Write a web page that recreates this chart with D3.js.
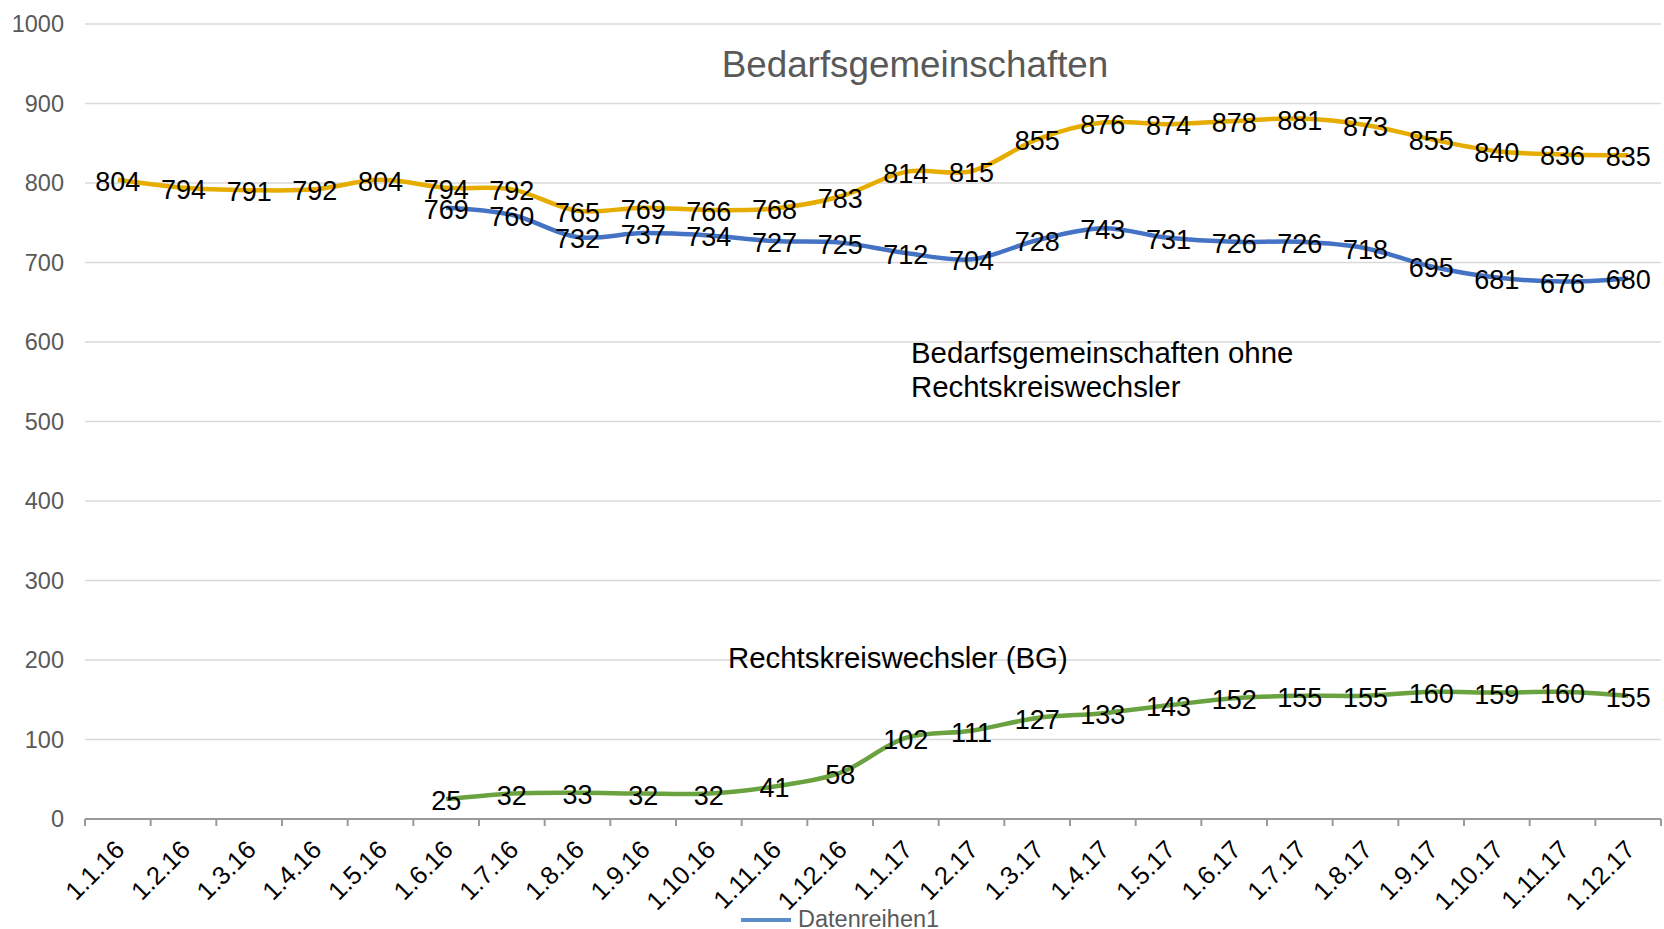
<!DOCTYPE html>
<html>
<head>
<meta charset="utf-8">
<script src="https://cdn.jsdelivr.net/npm/d3@7"></script>
<style>
  body { margin: 0; background: #fff; }
  svg text { font-family: "Liberation Sans", Arial, sans-serif; }
</style>
</head>
<body>
<div id="chart"></div>
<script>
var months = ["1.1.16", "1.2.16", "1.3.16", "1.4.16", "1.5.16", "1.6.16", "1.7.16", "1.8.16",
    "1.9.16", "1.10.16", "1.11.16", "1.12.16", "1.1.17", "1.2.17", "1.3.17", "1.4.17",
    "1.5.17", "1.6.17", "1.7.17", "1.8.17", "1.9.17", "1.10.17", "1.11.17", "1.12.17"];

// Bedarfsgemeinschaften gesamt
var bgGesamt = [804, 794, 791, 792, 804, 794, 792, 765, 769, 766, 768, 783,
    814, 815, 855, 876, 874, 878, 881, 873, 855, 840, 836, 835];

// ohne Rechtskreiswechsler (erst ab 1.6.16)
var bgOhneRkw = [null, null, null, null, null, 769, 760, 732, 737, 734, 727, 725,
    712, 704, 728, 743, 731, 726, 726, 718, 695, 681, 676, 680];

// Rechtskreiswechsler (BG)
var rkw = [null, null, null, null, null, 25, 32, 33, 32, 32, 41, 58,
    102, 111, 127, 133, 143, 152, 155, 155, 160, 159, 160, 155];

var yTicks = [0, 100, 200, 300, 400, 500, 600, 700, 800, 900, 1000];

var seriesColors = ["#e6ac00", "#4472c4", "#6aa23f"];

var width = 1664, height = 929;
var plotLeft = 85, plotRight = 1661, plotTop = 24, plotBottom = 819;

var svg = d3.select("#chart").append("svg")
    .attr("width", width)
    .attr("height", height);

var x = d3.scaleBand().domain(months).range([plotLeft, plotRight]);
var y = d3.scaleLinear().domain([0, 1000]).range([plotBottom, plotTop]);

// gridlines
svg.append("g")
    .selectAll("line")
    .data(yTicks.filter(function (d) { return d > 0; }))
    .enter().append("line")
    .attr("x1", plotLeft).attr("x2", plotRight)
    .attr("y1", function (d) { return y(d); })
    .attr("y2", function (d) { return y(d); })
    .attr("stroke", "#d9d9d9")
    .attr("stroke-width", 1.5);

// y axis labels
var yAxis = d3.axisLeft(y).tickValues(yTicks).tickFormat(d3.format("d"))
    .tickSize(0).tickPadding(21);
svg.append("g")
    .attr("transform", "translate(" + plotLeft + ",0)")
    .call(yAxis)
    .call(function (g) {
        g.select(".domain").remove();
        g.selectAll("text").attr("fill", "#595959").style("font-size", "23.5px");
    });

// x axis with tick marks between categories
var xAxisG = svg.append("g").attr("transform", "translate(0," + plotBottom + ")");
xAxisG.append("line")
    .attr("x1", plotLeft).attr("x2", plotRight)
    .attr("stroke", "#9a9a9a").attr("stroke-width", 2);
var bounds = months.map(function (m) { return x(m); }).concat([plotRight]);
xAxisG.selectAll(".tk").data(bounds).enter().append("line")
    .attr("class", "tk")
    .attr("x1", function (d) { return d; }).attr("x2", function (d) { return d; })
    .attr("y1", 0).attr("y2", 7)
    .attr("stroke", "#9a9a9a").attr("stroke-width", 2);
xAxisG.selectAll(".lbl").data(months).enter().append("text")
    .attr("class", "lbl")
    .attr("text-anchor", "end")
    .attr("transform", function (d) {
        return "translate(" + (x(d) + x.bandwidth() / 2 + 2) + ",26) rotate(-45)";
    })
    .attr("dy", "0.35em")
    .attr("fill", "#000")
    .style("font-size", "25.5px")
    .text(function (d) { return d; });

var line = d3.line()
    .x(function (d) { return x(d.m) + x.bandwidth() / 2; })
    .y(function (d) { return y(d.v); })
    .curve(d3.curveCatmullRom.alpha(0.5));

var allSeries = [bgGesamt, bgOhneRkw, rkw];

allSeries.forEach(function (vals, i) {
    var pts = months.map(function (m, j) { return {m: m, v: vals[j]}; })
        .filter(function (d) { return d.v != null; });
    svg.append("path")
        .datum(pts)
        .attr("d", line)
        .attr("fill", "none")
        .attr("stroke", seriesColors[i])
        .attr("stroke-width", 4.5)
        .attr("stroke-linejoin", "round");
});

// data labels on top of the lines
allSeries.forEach(function (vals) {
    var pts = months.map(function (m, j) { return {m: m, v: vals[j]}; })
        .filter(function (d) { return d.v != null; });
    svg.append("g").selectAll("text").data(pts).enter().append("text")
        .attr("x", function (d) { return x(d.m) + x.bandwidth() / 2; })
        .attr("y", function (d) { return y(d.v) + 2; })
        .attr("text-anchor", "middle")
        .attr("dominant-baseline", "central")
        .attr("fill", "#000")
        .style("font-size", "27px")
        .text(function (d) { return d.v; });
});

// title
svg.append("text")
    .attr("x", 915).attr("y", 77)
    .attr("text-anchor", "middle")
    .attr("fill", "#595959")
    .style("font-size", "36.8px")
    .text("Bedarfsgemeinschaften");

// annotations
var note = svg.append("text")
    .attr("x", 911).attr("y", 363)
    .attr("fill", "#000")
    .style("font-size", "29.4px");
note.append("tspan").attr("x", 911).text("Bedarfsgemeinschaften ohne");
note.append("tspan").attr("x", 911).attr("dy", 34).text("Rechtskreiswechsler");

svg.append("text")
    .attr("x", 728).attr("y", 668)
    .attr("fill", "#000")
    .style("font-size", "29.4px")
    .text("Rechtskreiswechsler (BG)");

// legend
var legend = svg.append("g").attr("transform", "translate(741,920)");
legend.append("line")
    .attr("x1", 0).attr("x2", 50)
    .attr("stroke", "#5b8ec9").attr("stroke-width", 4);
legend.append("text")
    .attr("x", 57).attr("y", 7)
    .attr("fill", "#595959")
    .style("font-size", "23.5px")
    .text("Datenreihen1");
</script>
</body>
</html>
